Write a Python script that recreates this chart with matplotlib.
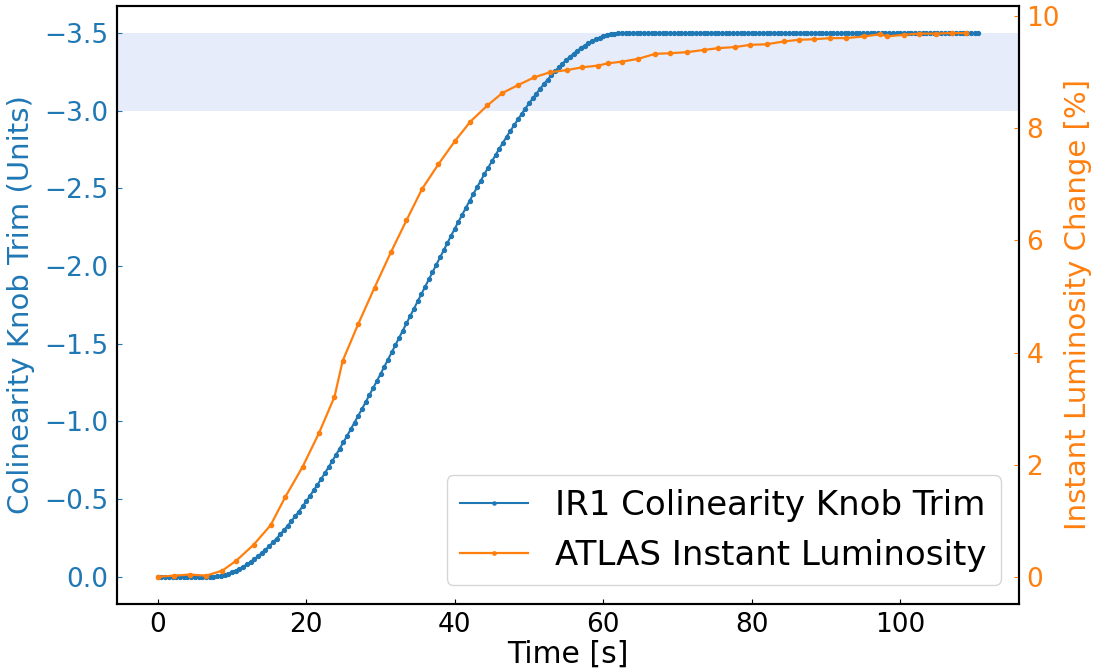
import numpy as np
import matplotlib
matplotlib.use("Agg")
import matplotlib.pyplot as plt

# ---- data ----
# IR1 colinearity knob trim, sampled every 0.5 s from t = 0 s
blue_step = 0.5
blue_trim = [
    0.0, 0.0, 0.0, 0.0, 0.0, 0.0, 0.0, 0.0, 0.0, 0.0, 0.0, 0.0, 0.0, 0.0,
    0.0, -0.001, -0.003, -0.008, -0.013, -0.021, -0.030, -0.040, -0.052, -0.065,
    -0.080, -0.096, -0.114, -0.133, -0.153, -0.174, -0.197, -0.221, -0.246, -0.273,
    -0.300, -0.328, -0.358, -0.389, -0.420, -0.453, -0.486, -0.521, -0.556, -0.592,
    -0.629, -0.666, -0.705, -0.744, -0.784, -0.825, -0.866, -0.907, -0.950, -0.993,
    -1.036, -1.080, -1.124, -1.169, -1.214, -1.259, -1.305, -1.351, -1.397, -1.444,
    -1.491, -1.538, -1.585, -1.632, -1.679, -1.726,
    -1.774, -1.821, -1.868, -1.915, -1.962, -2.009, -2.056, -2.103, -2.149, -2.195,
    -2.241, -2.286, -2.331, -2.376, -2.420, -2.464, -2.507, -2.550, -2.593, -2.634,
    -2.675, -2.716, -2.756, -2.795, -2.834, -2.871, -2.908, -2.944, -2.979, -3.014,
    -3.047, -3.080, -3.111, -3.142, -3.172, -3.200, -3.227, -3.254, -3.279, -3.303,
    -3.326, -3.347, -3.367, -3.386, -3.404, -3.420, -3.435, -3.448, -3.460, -3.470,
    -3.479, -3.487, -3.492, -3.497, -3.499, -3.500,
    -3.5, -3.5, -3.5, -3.5, -3.5, -3.5, -3.5, -3.5, -3.5, -3.5, -3.5, -3.5,
    -3.5, -3.5, -3.5, -3.5, -3.5, -3.5, -3.5, -3.5, -3.5, -3.5, -3.5, -3.5,
    -3.5, -3.5, -3.5, -3.5, -3.5, -3.5, -3.5, -3.5, -3.5, -3.5, -3.5, -3.5,
    -3.5, -3.5, -3.5, -3.5, -3.5, -3.5, -3.5, -3.5, -3.5, -3.5, -3.5, -3.5,
    -3.5, -3.5, -3.5, -3.5, -3.5, -3.5, -3.5, -3.5, -3.5, -3.5, -3.5, -3.5,
    -3.5, -3.5, -3.5, -3.5, -3.5, -3.5, -3.5, -3.5, -3.5, -3.5, -3.5, -3.5,
    -3.5, -3.5, -3.5, -3.5, -3.5, -3.5, -3.5, -3.5, -3.5, -3.5, -3.5, -3.5,
    -3.5, -3.5, -3.5, -3.5, -3.5, -3.5, -3.5, -3.5, -3.5, -3.5, -3.5, -3.5,
]
blue_time = blue_step * np.arange(len(blue_trim))

# ATLAS instant luminosity change [%]
lumi_time = [0.0, 2.2, 4.3, 6.5, 8.7, 10.6, 12.9, 15.2, 17.2, 19.5, 21.7, 23.8,
             24.9, 27.0, 29.2, 31.4, 33.5, 35.6, 37.8, 40.0, 42.1, 44.4, 46.4,
             48.5, 50.7, 52.8, 55.1, 57.2, 59.3, 60.6, 62.5, 64.7, 67.0, 69.0,
             71.3, 73.6, 75.4, 77.7, 79.8, 82.0, 84.3, 86.3, 88.4, 90.6, 92.7,
             95.1, 97.3, 98.2, 100.5, 102.5, 104.8, 106.9, 108.9]
lumi_change = [0.0, 0.02, 0.04, 0.02, 0.11, 0.29, 0.57, 0.92, 1.43, 1.96, 2.56,
               3.21, 3.85, 4.51, 5.16, 5.79, 6.36, 6.92, 7.36, 7.77, 8.12, 8.41,
               8.63, 8.77, 8.91, 9.00, 9.04, 9.09, 9.12, 9.16, 9.19, 9.24, 9.33,
               9.34, 9.36, 9.40, 9.43, 9.45, 9.49, 9.50, 9.55, 9.58, 9.59, 9.61,
               9.61, 9.64, 9.68, 9.64, 9.67, 9.69, 9.69, 9.70, 9.70]

band_range = (-3.5, -3.0)

labels = ["IR1 Colinearity Knob Trim", "ATLAS Instant Luminosity"]

# ---- plot ----
blue = "#1f77b4"
orange = "#ff7f0e"

fig = plt.figure(figsize=(10.98, 6.69), dpi=100)
ax1 = fig.add_axes([0.1063, 0.0972, 0.822, 0.894])
ax2 = ax1.twinx()

ax1.axhspan(band_range[0], band_range[1], color="#e6ecf9", zorder=0, lw=0)
l1, = ax1.plot(blue_time, blue_trim, color=blue, marker="o", markersize=2.8,
               linewidth=1.5, label=labels[0])
ax1.invert_yaxis()

l2, = ax2.plot(lumi_time, lumi_change, color=orange, marker="o", markersize=3.0,
               linewidth=1.6, label=labels[1])

ax1.set_xlabel("Time [s]", fontsize=21.5, labelpad=1)
ax1.set_ylabel("Colinearity Knob Trim (Units)", fontsize=21, color=blue,
               labelpad=7)
ax2.set_ylabel("Instant Luminosity Change [%]", fontsize=21, color=orange,
               labelpad=3)

ax1.tick_params(axis="x", direction="in", labelsize=19, colors="black", pad=6)
ax1.tick_params(axis="y", direction="in", labelsize=19, colors=blue, pad=6)
ax2.tick_params(axis="y", direction="in", labelsize=19, colors=orange, pad=5)

for sp in ax2.spines.values():
    sp.set_linewidth(1.5)
for sp in ax1.spines.values():
    sp.set_linewidth(1.5)

ax2.legend(handles=[l1, l2], loc="lower right", fontsize=24.5, markerscale=0.8,
           borderaxespad=0.55)

fig.savefig("out.png", dpi=100)
